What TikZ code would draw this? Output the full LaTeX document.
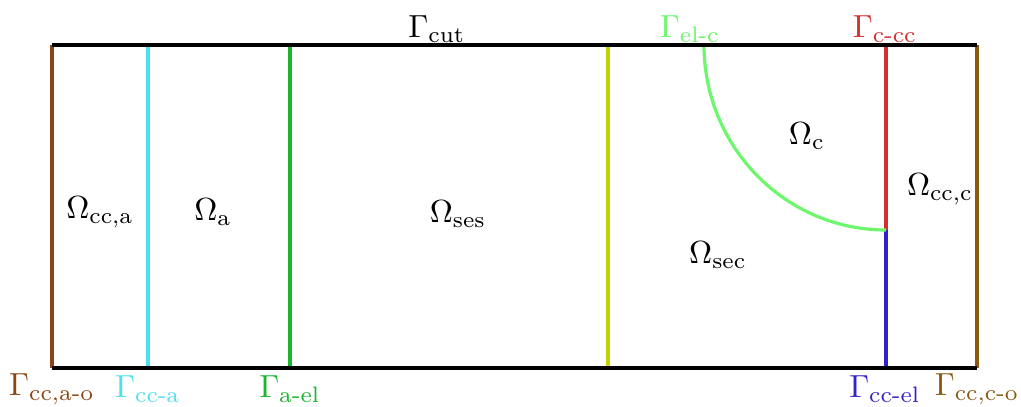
\documentclass[tikz,border=0pt]{standalone}
\usepackage{amsmath}
\definecolor{cBrownL}{HTML}{8B4513}
\definecolor{cCyan}{HTML}{4FE0F0}
\definecolor{cGreen}{HTML}{1BB52E}
\definecolor{cYell}{HTML}{BFD400}
\definecolor{cRed}{HTML}{D32F2F}
\definecolor{cBlue}{HTML}{3322CC}
\definecolor{cBrownR}{HTML}{8B5A10}
\definecolor{cLGreen}{HTML}{6CF76C}
\begin{document}
\begin{tikzpicture}[x=0.011cm,y=-0.011cm,
  bd/.style={line width=1pt},
  lbl/.style={inner sep=0pt}]
\useasboundingbox (0,0) rectangle (1021,407);
% coordinates
\coordinate (tl) at (52,45); \coordinate (tr) at (977,45);
\coordinate (bl) at (52,368); \coordinate (br) at (977,368);
\coordinate (cat) at (148,45); \coordinate (cab) at (148,368);
\coordinate (aet) at (290,45); \coordinate (aeb) at (290,368);
\coordinate (yt) at (608,45); \coordinate (yb) at (608,368);
\coordinate (rt) at (886,45); \coordinate (rm) at (886,230); \coordinate (rb) at (886,368);
\coordinate (arcs) at (704,45);
% colored boundaries
\draw[bd,cBrownL] (tl) -- (bl);
\draw[bd,cBrownR] (tr) -- (br);
\draw[bd,cCyan] (cat) -- (cab);
\draw[bd,cGreen] (aet) -- (aeb);
\draw[bd,cYell] (yt) -- (yb);
\draw[bd,cRed] (rt) -- (rm);
\draw[bd,cBlue] (rm) -- (rb);
\draw[bd,cLGreen] (arcs) arc[start angle=180,end angle=270,x radius=182,y radius=-185];
% black top and bottom
\draw[bd,black] (tl) -- (tr);
\draw[bd,black] (bl) -- (br);
% labels
\node[lbl] (gcut) at (437,29) {$\Gamma_{\text{cut}}$};
\node[lbl,text=cLGreen] (gelc) at (690,29) {$\Gamma_{\text{el-c}}$};
\node[lbl,text=cRed] (gccc) at (885,29) {$\Gamma_{\text{c-cc}}$};
\node[lbl,text=cBrownL] (gcao) at (52,389) {$\Gamma_{\text{cc,a-o}}$};
\node[lbl,text=cCyan] (gcca) at (148,389) {$\Gamma_{\text{cc-a}}$};
\node[lbl,text=cGreen] (gael) at (290,389) {$\Gamma_{\text{a-el}}$};
\node[lbl,text=cBlue] (gccel) at (885,389) {$\Gamma_{\text{cc-el}}$};
\node[lbl,text=cBrownR] (gcco) at (977,389) {$\Gamma_{\text{cc,c-o}}$};
\node[lbl] (occa) at (100,212) {$\Omega_{\text{cc,a}}$};
\node[lbl] (oa) at (213,212) {$\Omega_{\text{a}}$};
\node[lbl] (oses) at (458,214) {$\Omega_{\text{ses}}$};
\node[lbl] (oc) at (807,136) {$\Omega_{\text{c}}$};
\node[lbl] (occc) at (940,189) {$\Omega_{\text{cc,c}}$};
\node[lbl] (osec) at (718,255) {$\Omega_{\text{sec}}$};
\end{tikzpicture}
\end{document}
